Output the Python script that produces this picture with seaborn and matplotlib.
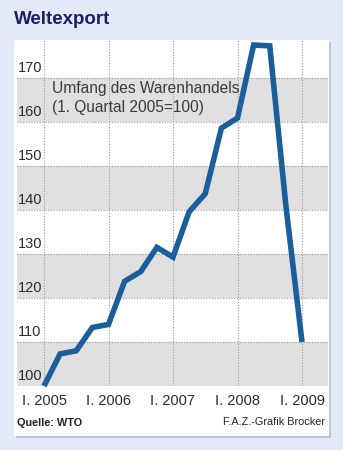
import matplotlib
matplotlib.use("Agg")
import matplotlib.pyplot as plt
import matplotlib.patches as mpatches
import matplotlib.transforms as mtransforms
import seaborn as sns
import pandas as pd
import numpy as np

# ---- data ----
quarters = [2005.0, 2005.25, 2005.5, 2005.75,
            2006.0, 2006.25, 2006.5, 2006.75,
            2007.0, 2007.25, 2007.5, 2007.75,
            2008.0, 2008.25, 2008.5, 2008.75,
            2009.0]
volume = [100, 107.3, 108, 113.3,
          114, 123.8, 126, 131.5,
          129.3, 139.6, 143.7, 158.6,
          160.9, 177.5, 177.3, 141,
          110]
xtick_pos = [2005, 2006, 2007, 2008, 2009]
xtick_labels = ["I. 2005", "I. 2006", "I. 2007", "I. 2008", "I. 2009"]
ytick_vals = [100, 110, 120, 130, 140, 150, 160, 170]
ytick_labels = ["100", "110", "120", "130", "140", "150", "160", "170"]
title = "Weltexport"
note = "Umfang des Warenhandels\n(1. Quartal 2005=100)"
source = "Quelle: WTO"
credit = "F.A.Z.-Grafik Brocker"

df = pd.DataFrame({"quarter": quarters, "volume": volume})

sns.set_theme(style="white")
FAM = ["Liberation Sans", "DejaVu Sans"]
plt.rcParams["font.family"] = FAM

W, H = 343, 450
fig = plt.figure(figsize=(W / 100, H / 100), dpi=100)
fig.patch.set_facecolor("#e2eaf9")

def fx(px):
    return px / W

def fy(py):
    return 1 - py / H

# panel shadow and panel
fig.patches.append(mpatches.Rectangle((fx(16), fy(438)), fx(315), fy(0) - fy(396),
                                      transform=fig.transFigure, facecolor="#a7afbd",
                                      edgecolor="none", alpha=0.6, zorder=-3))
fig.patches.append(mpatches.Rectangle((fx(14), fy(436)), fx(315), fy(0) - fy(396),
                                      transform=fig.transFigure, facecolor="white",
                                      edgecolor="none", zorder=-2))

ax = fig.add_axes([fx(17), fy(386), fx(328) - fx(17), fy(40) - fy(386)])
ax.set_facecolor("white")
x0 = 2005 - (44 - 17) / 64.5
x1 = 2009 + (328 - 302) / 64.5
ax.set_xlim(x0, x1)
ax.set_ylim(100, 100 + (386 - 40) / 4.4)

# alternating grey bands
for lo in ytick_vals[::2]:
    ax.axhspan(lo, lo + 10, color="#e0e0e0", zorder=0, lw=0)

# dotted grid
for v in ytick_vals:
    ax.axhline(v, color="#9a9a9a", lw=0.8, ls=(0, (1, 1.5)), zorder=1)
for v in xtick_pos:
    ax.axvline(v, color="#9a9a9a", lw=0.8, ls=(0, (1, 1.5)), zorder=1)

sns.lineplot(data=df, x="quarter", y="volume", ax=ax, color="#1b5e9c",
             linewidth=4.0, zorder=3, clip_on=False, solid_joinstyle="miter",
             solid_capstyle="butt")

for s in ax.spines.values():
    s.set_visible(False)

ax.set_xlabel("")
ax.set_ylabel("")
ax.set_yticks([])
ax.set_xticks(xtick_pos)
ax.set_xticklabels(xtick_labels, fontsize=10.5, color="#2a2a2a")
ax.tick_params(axis="x", length=0, pad=6)

trans = mtransforms.blended_transform_factory(ax.transAxes, ax.transData)
for v, lab in zip(ytick_vals, ytick_labels):
    ax.text(0.003, v + 0.6, lab, transform=trans, ha="left", va="bottom",
            fontsize=10.5, color="#2a2a2a", zorder=4)

ax.text(2005.12, 169.3, note, ha="left", va="top", fontsize=11.2,
        color="#3a3a3a", linespacing=1.3, zorder=4)

fig.text(fx(14), fy(20), title, ha="left", va="center", fontsize=13.5,
         fontweight="bold", color="#1b1f66")
fig.text(fx(17), fy(423), source, ha="left", va="center", fontsize=7.8,
         fontweight="bold", color="#222222")
fig.text(fx(325), fy(422), credit, ha="right", va="center", fontsize=7.8,
         color="#222222")

fig.savefig("out.png", dpi=100, facecolor=fig.get_facecolor())
